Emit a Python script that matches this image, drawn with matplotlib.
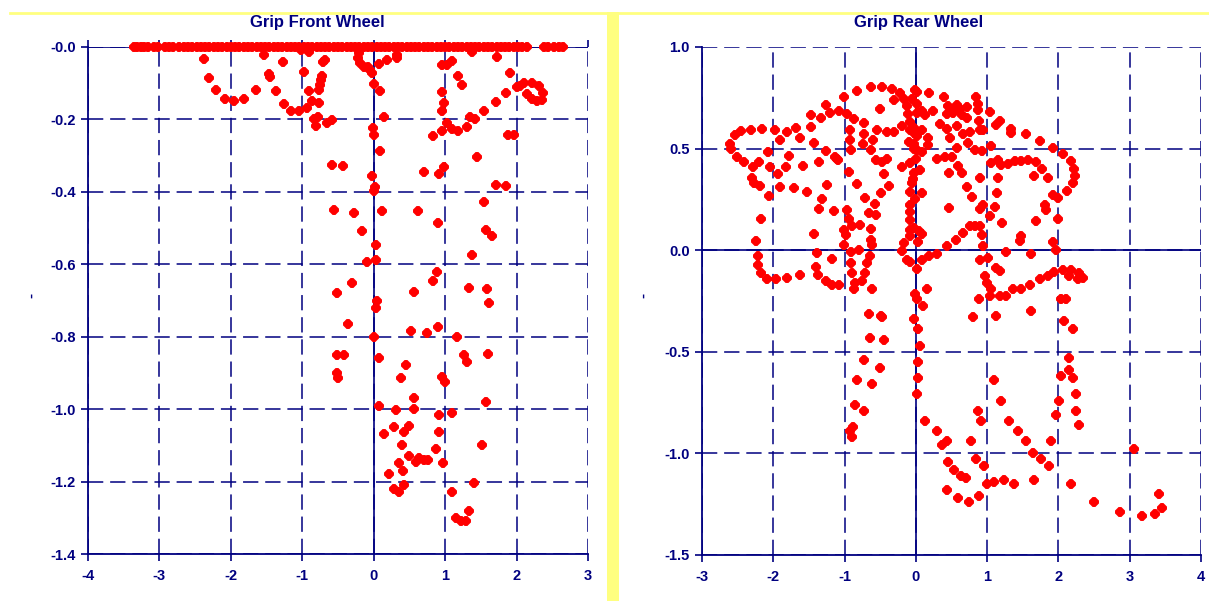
import matplotlib.pyplot as plt
from matplotlib.lines import Line2D
from matplotlib.patches import Rectangle

plt.rcParams['font.family'] = ['Liberation Sans', 'DejaVu Sans']

NAVY = '#000080'
RED = '#ff0000'
YELLOW = '#ffff80'

# ---- front wheel grip (x, y) ----
front_row_x = [-3.36, -3.31, -3.26, -3.21, -3.16, -3.08, -3.02, -2.92, -2.86, -2.81,
               -2.72, -2.66, -2.60, -2.54, -2.48, -2.42, -2.36, -2.30, -2.24, -2.18,
               -2.12, -2.06, -2.00, -1.94, -1.88, -1.82, -1.76, -1.70, -1.64, -1.58,
               -1.52, -1.46, -1.40, -1.34, -1.28, -1.22, -1.16, -1.10, -1.04, -0.98,
               -0.92, -0.86, -0.80, -0.74, -0.68, -0.62, -0.56, -0.50, -0.44, -0.38,
               -0.32, -0.26, -0.20, -0.14, -0.08, -0.02, 0.04, 0.10, 0.16, 0.22,
               0.28, 0.34, 0.40, 0.46, 0.52, 0.58, 0.64, 0.70, 0.76, 0.82,
               0.88, 0.94, 1.00, 1.06, 1.12, 1.18, 1.24, 1.30, 1.36, 1.42,
               1.48, 1.54, 1.60, 1.66, 1.72, 1.78, 1.84, 1.90, 1.96, 2.02,
               2.08, 2.14, 2.38, 2.44, 2.53, 2.59, 2.65]

front_x = [-2.38, -2.30, -2.21, -2.08, -1.96, -1.81, -1.65, -1.53, -1.46, -1.45, -1.37,
           -1.27, -1.26, -1.16, -1.04, -1.02, -0.91, -0.68, -0.71, -0.97, -0.72, -0.74,
           -0.755, -0.76, -0.91, -0.93, -0.86, -0.76, -0.83, -0.78, -0.81, -0.65, -0.59,
           -0.21, -0.22, -0.19, -0.14, -0.08, -0.05, -0.03, 0.07, 0.185, 0.32, 0.32,
           0.01, 0.09, 0.14, -0.01, 0.0, 0.09, -0.59, -0.43, -0.03, 0.02, 0.0,
           -0.56, -0.28, 0.11, -0.17, 0.625, 0.90, 0.71, 0.92, 0.99,
           0.83, 0.95, 1.09, 1.18, 1.30, 1.35, 1.42, 1.55, 1.71, 1.85, 1.91, 1.73, 1.38,
           0.95, 1.02, 1.10, 1.18, 1.23, 0.95, 0.99, 0.96, 1.02, 1.45, 1.71, 1.85,
           1.54, 1.875, 1.96,
           2.0, 2.10, 2.22, 2.31, 2.375, 2.36, 2.28, 2.22, 2.14, 2.05,
           -0.10, 0.03, -0.31, -0.52, -0.36, -0.52, -0.42, -0.52, -0.50,
           0.03, 0.04, 0.03, 0.01, 0.08, 0.07, 0.14, 0.21, 0.28, 0.35, 0.42,
           0.56, 0.52, 0.45, 0.38, 0.31, 0.28, 0.43, 0.50, 0.56, 0.57, 0.39, 0.50,
           0.59, 0.64, 0.70, 0.35, 0.41,
           0.88, 0.83, 0.74, 0.90, 0.95, 1.00, 0.92, 0.92, 0.87, 0.76, 0.97, 1.10,
           1.09, 1.15, 1.22, 1.29, 1.34, 1.17, 1.26, 1.30, 1.40, 1.51, 1.34, 1.37,
           1.57, 1.65, 1.58, 1.61, 1.60, 1.57]
front_y = [-0.034, -0.086, -0.119, -0.143, -0.149, -0.143, -0.119, -0.023, -0.075, -0.082, -0.122,
           -0.041, -0.157, -0.176, -0.176, -0.009, -0.015, -0.035, -0.042, -0.069, -0.080, -0.091,
           -0.105, -0.119, -0.121, -0.168, -0.148, -0.156, -0.200, -0.194, -0.218, -0.211, -0.202,
           -0.017, -0.031, -0.044, -0.054, -0.056, -0.063, -0.072, -0.047, -0.035, -0.021, -0.031,
           -0.102, -0.121, -0.194, -0.225, -0.244, -0.287, -0.325, -0.329, -0.356, -0.387, -0.399,
           -0.450, -0.459, -0.454, -0.507, -0.454, -0.486, -0.346, -0.350, -0.332,
           -0.246, -0.231, -0.227, -0.231, -0.222, -0.194, -0.200, -0.176, -0.153, -0.128, -0.072, -0.028, -0.014,
           -0.051, -0.051, -0.038, -0.079, -0.106, -0.125, -0.156, -0.177, -0.211, -0.304, -0.380, -0.384,
           -0.429, -0.242, -0.242,
           -0.111, -0.100, -0.100, -0.109, -0.128, -0.146, -0.148, -0.144, -0.131, -0.109,
           -0.594, -0.588, -0.652, -0.680, -0.765, -0.850, -0.850, -0.900, -0.914,
           -0.547, -0.700, -0.720, -0.800, -0.860, -0.990, -1.070, -1.180, -1.220, -1.230, -1.210,
           -0.677, -0.785, -0.878, -0.914, -1.003, -1.050, -1.063, -1.047, -1.000, -0.970, -1.100, -1.130,
           -1.146, -1.135, -1.140, -1.150, -1.170,
           -0.620, -0.645, -0.790, -0.773, -0.910, -0.925, -1.017, -1.064, -1.110, -1.140, -1.150, -1.010,
           -1.230, -1.300, -1.310, -1.310, -1.280, -0.800, -0.850, -0.870, -1.205, -1.100, -0.666, -0.575,
           -0.505, -0.522, -0.668, -0.707, -0.848, -0.980]

# ---- rear wheel grip (x, y) ----
rear_x = [-0.823, -0.628, -0.474, -0.335, -0.228, -0.009, 0.023, 0.191, 0.40, 0.842,
          -1.009, -1.256, -0.507, -0.312, -0.163, -0.126, -0.056, 0.023, 0.084, 0.247, 0.456,
          0.572, 0.619, 0.502, 0.712, 0.865, 0.874, 1.037,
          -1.474, -1.335, -1.205, -1.079, -0.972, -0.87, -0.73, -0.112, -0.079, 0.023, 0.13,
          0.433, 0.526, 0.642, 0.721, 0.884, 1.177, 1.13,
          -2.544, -2.451, -2.312, -2.158, -1.977, -1.809, -1.684, -1.474, -0.926, -0.73, -0.60,
          -0.544, -0.405, -0.312, -0.195, -0.079, -0.033, 0.084, 0.177, 0.34, 0.433, 0.479,
          0.572, 0.665, 0.758, 0.898, 0.944, 1.34, 1.34, 1.549, 1.744, 1.921,
          -2.614, -2.60, -2.507, -2.405, -2.07, -1.902, -1.777, -1.623, -1.428, -1.256, -1.14,
          -1.088, -0.926, -0.916, -0.74, -0.628, -0.553, -0.474, -0.405, -0.102, -0.033, 0.014,
          0.084, 0.177, 0.293, 0.409, 0.502, 0.572, 0.735, 0.828, 0.921, 1.06, 1.153, 1.06,
          1.20, 1.293, 1.386, 1.479, 1.572, 1.679, 2.06, 2.177,
          -2.288, -2.195, -2.298, -2.265, -2.186, -2.042, -1.93, -1.902, -1.819, -1.707, -1.577,
          -1.521, -1.358, -1.242, -1.102, -0.94, -0.823, -0.442, -0.381, -0.195, -0.079, -0.033,
          -0.056, -0.079, 0.06, 0.084, 0.47, 0.595, 0.642, 0.712, 0.781, 0.898, 1.153, 1.144,
          1.656, 1.772, 1.856, 2.20, 2.237, 2.223, 2.116,
          -2.056, -2.172, -1.321, -1.358, -1.149, -0.963, -0.94, -0.893, -0.777, -0.716, -0.66,
          -0.577, -0.553, -0.488, -0.079, -0.079, -0.079, 0.051, 0.084, 0.47, 0.944, 0.898,
          1.107, 1.037, 1.214, 1.688, 1.805, 1.828, 1.921, 1.991, 1.991,
          -2.242, -2.209, -1.428, -1.391, -1.181, -1.009, -0.986, -1.009, -0.916, -0.80, -0.628,
          -0.628, -0.614, -0.637, -0.079, -0.033, -0.079, -0.172, -0.195, 0.037, 0.433, 0.563,
          0.665, 0.758, 0.828, 0.898, 0.921, 0.944, 1.27, 1.456, 1.479, 1.619, 1.921, 1.967,
          -2.209, -2.172, -2.088, -1.963, -1.809, -1.623, -1.405, -1.367, -1.265, -1.181, -1.079,
          -0.916, -0.893, -0.847, -0.87, -0.753, -0.707, -0.684, -0.614, -0.126, -0.079, 0.014,
          0.084, 0.191, 0.293, 0.898, 1.014, 1.13, 1.177, 0.967, 0.991, 1.06, 1.177, 1.27,
          1.363, 1.479, 1.595, 1.735, 1.851, 1.944, 2.06, 2.177, 2.293, 2.34, 2.27, 2.153,
          -0.009, 0.014, 0.107, 0.153, 0.884, 1.037, 2.037, 2.107, -0.66, -0.484, 1.619,
          0.805, 1.121, -0.033,
          -0.02, -0.03, 0.0, -0.04, 0.02, -0.01,
          -0.64, -0.73, -0.83, -0.85, -0.88, -0.92, -0.90, -0.48, -0.45, -0.50, -0.62, -0.73,
          0.03, 0.06, 0.03, 0.03, 0.01, 0.13, 0.29, 0.36, 0.45, 0.53, 0.64, 0.71,
          0.87, 0.91, 0.78, 0.85, 0.95, 0.43, 1.09, 1.20, 1.31, 1.43, 1.55, 1.65, 1.76, 1.87,
          1.90, 1.97, 2.01, 2.04, 2.15, 2.21, 2.08, 2.15, 2.21, 2.25, 2.25, 2.29,
          0.44, 0.59, 0.74, 0.89, 1.00, 1.09, 1.24, 1.38, 1.66, 2.17, 2.50, 2.86, 3.17, 3.36,
          3.45, 3.41, 3.06]
rear_y = [0.785, 0.805, 0.805, 0.793, 0.774, 0.788, 0.777, 0.774, 0.756, 0.752,
          0.756, 0.715, 0.695, 0.739, 0.744, 0.712, 0.744, 0.720, 0.687, 0.687, 0.712,
          0.717, 0.695, 0.687, 0.704, 0.720, 0.691, 0.679,
          0.666, 0.651, 0.676, 0.684, 0.671, 0.647, 0.625, 0.671, 0.630, 0.674, 0.663,
          0.671, 0.674, 0.663, 0.651, 0.638, 0.635, 0.614,
          0.565, 0.585, 0.593, 0.598, 0.593, 0.581, 0.603, 0.606, 0.590, 0.573, 0.544,
          0.590, 0.581, 0.581, 0.609, 0.590, 0.577, 0.590, 0.554, 0.619, 0.598, 0.554,
          0.609, 0.570, 0.581, 0.593, 0.593, 0.598, 0.577, 0.570, 0.537, 0.505,
          0.524, 0.500, 0.459, 0.435, 0.484, 0.544, 0.463, 0.554, 0.528, 0.489, 0.459,
          0.443, 0.544, 0.492, 0.524, 0.492, 0.443, 0.435, 0.451, 0.533, 0.524, 0.492,
          0.484, 0.516, 0.451, 0.459, 0.459, 0.505, 0.528, 0.492, 0.489, 0.511, 0.443, 0.427,
          0.419, 0.423, 0.438, 0.440, 0.443, 0.435, 0.472, 0.440,
          0.407, 0.435, 0.353, 0.332, 0.316, 0.410, 0.375, 0.313, 0.407, 0.308, 0.415,
          0.288, 0.435, 0.321, 0.451, 0.386, 0.326, 0.375, 0.316, 0.410, 0.427, 0.378,
          0.329, 0.288, 0.394, 0.280, 0.378, 0.414, 0.378, 0.309, 0.264, 0.353, 0.353, 0.283,
          0.365, 0.402, 0.353, 0.329, 0.366, 0.402, 0.293,
          0.267, 0.153, 0.251, 0.202, 0.191, 0.199, 0.153, 0.117, 0.125, 0.259, 0.182,
          0.226, 0.174, 0.280, 0.223, 0.186, 0.147, 0.093, 0.081, 0.210, 0.223, 0.204,
          0.215, 0.166, 0.134, 0.142, 0.223, 0.199, 0.272, 0.256, 0.153,
          0.044, -0.029, 0.081, -0.016, -0.041, 0.098, 0.077, 0.028, -0.008, 0.0, 0.104,
          0.052, 0.028, -0.029, 0.101, 0.109, 0.068, 0.036, -0.005, 0.039, 0.020, 0.052,
          0.085, 0.117, 0.117, 0.121, 0.077, 0.020, -0.010, 0.044, 0.068, -0.021, 0.039, 0.0,
          -0.075, -0.111, -0.140, -0.143, -0.138, -0.122, -0.081, -0.124, -0.151, -0.173, -0.173,
          -0.062, -0.111, -0.160, -0.192, -0.151, -0.111, -0.062, -0.192, -0.046, -0.059, -0.094,
          -0.046, -0.029, -0.021, -0.046, -0.037, -0.086, -0.103, -0.127, -0.160, -0.192, -0.225, -0.225,
          -0.192, -0.192, -0.173, -0.143, -0.127, -0.107, -0.098, -0.098, -0.111, -0.135, -0.143, -0.127,
          -0.217, -0.238, -0.277, -0.189, -0.238, -0.225, -0.238, -0.238, -0.314, -0.322, -0.298,
          -0.331, -0.322, -0.339,
          0.60, 0.50, 0.45, 0.35, 0.56, 0.25,
          -0.43, -0.54, -0.64, -0.76, -0.87, -0.89, -0.92, -0.33, -0.44, -0.58, -0.66, -0.79,
          -0.39, -0.47, -0.55, -0.63, -0.71, -0.84, -0.89, -0.96, -1.04, -1.08, -1.11, -1.12,
          -0.79, -0.84, -0.94, -1.03, -1.06, -0.94, -0.64, -0.74, -0.84, -0.89, -0.94, -1.00, -1.03, -1.06,
          -0.94, -0.81, -0.74, -0.62, -0.53, -0.39, -0.35, -0.59, -0.63, -0.71, -0.79, -0.86,
          -1.18, -1.22, -1.24, -1.21, -1.15, -1.14, -1.13, -1.15, -1.13, -1.15, -1.24, -1.29, -1.31, -1.30,
          -1.27, -1.20, -0.98]

front_xticks = [-4, -3, -2, -1, 0, 1, 2, 3]
front_yticks = [0.0, -0.2, -0.4, -0.6, -0.8, -1.0, -1.2, -1.4]
front_ylabels = ['-0.0', '-0.2', '-0.4', '-0.6', '-0.8', '-1.0', '-1.2', '-1.4']
rear_xticks = [-3, -2, -1, 0, 1, 2, 3, 4]
rear_yticks = [1.0, 0.5, 0.0, -0.5, -1.0, -1.5]
rear_ylabels = ['1.0', '0.5', '0.0', '-0.5', '-1.0', '-1.5']


def style_axes(ax, xticks, yticks, ylabels, top_ticks):
    ax.set_xlim(xticks[0], xticks[-1])
    ax.set_ylim(min(yticks), max(yticks))
    ax.set_xticks(xticks)
    ax.set_xticklabels([str(t) for t in xticks])
    ax.set_yticks(yticks)
    ax.set_yticklabels(ylabels)
    for side in ['top', 'right']:
        ax.spines[side].set_visible(False)
    for side in ['left', 'bottom']:
        ax.spines[side].set_color(NAVY)
        ax.spines[side].set_linewidth(1.3)
    ax.grid(True, color=NAVY, linewidth=1.1, dashes=(10, 4.5))
    ax.axhline(0, color=NAVY, linewidth=1.2, zorder=1.5)
    ax.axvline(0, color=NAVY, linewidth=1.2, zorder=1.5)
    ax.tick_params(direction='out', length=5, width=1.2, color=NAVY,
                   labelcolor=NAVY, labelsize=10.5, top=top_ticks)
    ax.tick_params(axis='x', pad=6)
    ax.tick_params(axis='y', pad=4)
    for lab in ax.get_xticklabels() + ax.get_yticklabels():
        lab.set_fontweight('bold')
    ax.set_axisbelow(True)
    ax.set_ylabel('-', color=NAVY, fontsize=11, fontweight='bold')


fig = plt.figure(figsize=(12.09, 6.01), dpi=100)

# yellow frame pieces
fig.add_artist(Line2D([10 / 1209, 1.0], [1 - 13 / 601, 1 - 13 / 601],
                      color=YELLOW, linewidth=2.0))
fig.add_artist(Rectangle((607 / 1209, 0), 12 / 1209, 1 - 12 / 601,
                         color=YELLOW, linewidth=0))

ax1 = fig.add_axes([88 / 1209, 47 / 601, 500 / 1209, 507 / 601])
ax2 = fig.add_axes([702 / 1209, 46 / 601, 499 / 1209, 508 / 601])

style_axes(ax1, front_xticks, front_yticks, front_ylabels, True)
style_axes(ax2, rear_xticks, rear_yticks, rear_ylabels, False)
ax1.yaxis.set_label_coords(-0.1, 0.51)
ax2.yaxis.set_label_coords(-0.104, 0.51)

mk = dict(marker='8', markersize=5.5, markeredgewidth=1.4, color=RED, linestyle='none')
ax1.plot(front_row_x, [0.0] * len(front_row_x), clip_on=False, zorder=3, **mk)
ax1.plot(front_x, front_y, clip_on=False, zorder=3, **mk)
ax2.plot(rear_x, rear_y, zorder=3, **mk)

fig.text(317 / 1209, 1 - 23 / 601, 'Grip Front Wheel', ha='center', va='center',
         color=NAVY, fontsize=12, fontweight='bold')
fig.text(919 / 1209, 1 - 23 / 601, 'Grip Rear Wheel', ha='center', va='center',
         color=NAVY, fontsize=12, fontweight='bold')

fig.savefig('out.png', dpi=100)
